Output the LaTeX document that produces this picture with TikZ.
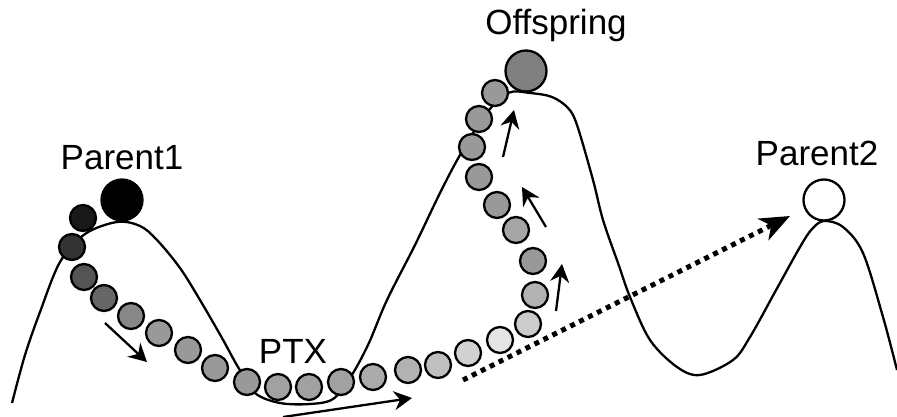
\documentclass[tikz,border=0pt]{standalone}
\usepackage{fontspec}
\setmainfont{Liberation Sans}
\usetikzlibrary{arrows.meta}
\begin{document}
\begin{tikzpicture}[x=1pt,y=-1pt,
  ball/.style={circle,draw,line width=2.3pt,inner sep=0pt,minimum size=26pt,fill=#1},
  bigball/.style={circle,draw,line width=2.3pt,inner sep=0pt,minimum size=41pt,fill=#1},
  lbl/.style={anchor=base,inner sep=0pt,font=\fontsize{35}{42}\selectfont},
  move/.style={line width=2.3pt,-{Stealth[length=18pt,width=19pt,inset=6pt]}},
  jump/.style={line width=5pt,dash pattern=on 5pt off 5pt,-{Stealth[length=30pt,width=24pt,inset=9pt]}}]
\useasboundingbox (0,0) rectangle (897,417);
% landscape
\draw[line width=2.3pt] plot[smooth,tension=0.55] coordinates {
 (12,403) (25,355) (40,312) (60,262) (85,234) (117,222) (140,226) (157,240)
 (180,268) (200,300) (222,338) (238,367) (255,393) (280,403) (310,404) (333,399)
 (350,378) (368,345) (387,300) (415,245) (440,193) (460,155) (485,115) (508,93)
 (530,93) (552,97) (568,108) (577,125) (593,180) (603,220) (618,263) (630,297)
 (650,340) (677,367) (700,375) (733,360) (750,337) (775,292) (800,247) (812,229)
 (824,221) (843,227) (863,253) (883,317) (897,370)};
% arrows
\coordinate (a1s) at (105,323); \coordinate (a1e) at (147,362);
\coordinate (a2s) at (283,417); \coordinate (a2e) at (412,398);
\coordinate (a3s) at (556,311); \coordinate (a3e) at (562,264);
\coordinate (a4s) at (546,227); \coordinate (a4e) at (522,187);
\coordinate (a5s) at (503,157); \coordinate (a5e) at (514,110);
\coordinate (js) at (463,380); \coordinate (je) at (790,216);
\draw[move] (a1s) -- (a1e);
\draw[move] (a2s) -- (a2e);
\draw[move] (a3s) -- (a3e);
\draw[move] (a4s) -- (a4e);
\draw[move] (a5s) -- (a5e);
\draw[jump] (js) -- (je);
% balls
\node[ball=black!90] (b1) at (83,218) {};
\node[ball=black!80] (b2) at (72,247) {};
\node[ball=black!67] (b3) at (84,277) {};
\node[ball=black!60] (b4) at (104,298) {};
\node[ball=black!47] (b5) at (131,316) {};
\node[ball=black!40] (b6) at (159,333) {};
\node[ball=black!40] (b7) at (188,350) {};
\node[ball=black!40] (b8) at (215,368) {};
\node[ball=black!40] (b9) at (247,382) {};
\node[ball=black!37] (b10) at (278,387) {};
\node[ball=black!37] (b11) at (309,387) {};
\node[ball=black!37] (b12) at (341,382) {};
\node[ball=black!33] (b13) at (373,377) {};
\node[ball=black!30] (b14) at (408,370) {};
\node[ball=black!25] (b15) at (438,365) {};
\node[ball=black!18] (b16) at (468,353) {};
\node[ball=black!10] (b17) at (500,340) {};
\node[ball=black!20] (b18) at (528,324) {};
\node[ball=black!30] (b19) at (535,295) {};
\node[ball=black!40] (b20) at (533,261) {};
\node[ball=black!35] (b21) at (516,230) {};
\node[ball=black!40] (b22) at (497,205) {};
\node[ball=black!40] (b23) at (479,177) {};
\node[ball=black!40] (b24) at (472,147) {};
\node[ball=black!40] (b25) at (479,119) {};
\node[ball=black!40] (b26) at (495,93) {};
\node[bigball=black] (p1) at (122,200) {};
\node[bigball=black!50] (off) at (526,71) {};
\node[bigball=white] (p2) at (824,200) {};
% labels
\node[lbl] (lp1) at (122,169) {Parent1};
\node[lbl] (loff) at (556,35) {Offspring};
\node[lbl] (lp2) at (817,166) {Parent2};
\node[lbl] (lptx) at (293,363) {PTX};
\end{tikzpicture}
\end{document}
